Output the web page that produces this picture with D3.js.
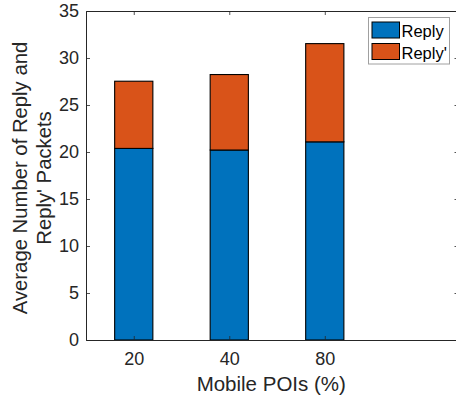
<!DOCTYPE html>
<html><head><meta charset="utf-8">
<script src="https://cdn.jsdelivr.net/npm/d3@7"></script>
<style>html,body{margin:0;padding:0;background:#fff;overflow:hidden}svg{display:block}</style>
</head><body>
<script>
const categories = ["20", "40", "80"];
const replyValues = [20.38, 20.21, 21.08];
const replyPrimeValues = [7.15, 8.03, 10.45];
const seriesNames = ["Reply", "Reply'"];
const seriesColors = ["#0072BD", "#D95319"];
const yTicks = [0, 5, 10, 15, 20, 25, 30, 35];

(function () {
const W = 456, H = 398;
const mLeft = 86, mRight = 458.5, mTop = 11, mBottom = 340;
const font = "'Liberation Sans', Arial, Helvetica, sans-serif";
const axisColor = "#262626";

const svg = d3.select("body").append("svg").attr("width", W).attr("height", H)
  .style("font-family", font);

const x = d3.scaleLinear().domain([0.5, 4.4]).range([mLeft, mRight]);
const y = d3.scaleLinear().domain([0, 35]).range([mBottom, mTop]);
const barW = x(0.4) - x(0);

const data = categories.map((c, i) => ({cat: c, pos: i + 1, Reply: replyValues[i], "Reply'": replyPrimeValues[i]}));
const stack = d3.stack().keys(seriesNames)(data);

// bars
svg.append("g").selectAll("g").data(stack).join("g")
  .attr("fill", (d, i) => seriesColors[i])
  .selectAll("rect").data(d => d).join("rect")
  .attr("x", d => x(d.data.pos) - barW / 2)
  .attr("width", barW)
  .attr("y", d => y(d[1]))
  .attr("height", d => y(d[0]) - y(d[1]))
  .attr("stroke", "#000").attr("stroke-width", 1.1);

// axes
const tl = 4;
const gB = svg.append("g").attr("transform", `translate(0,${mBottom})`)
  .call(d3.axisBottom(x).tickValues([1, 2, 3]).tickFormat(d => categories[d - 1]).tickSizeInner(-tl).tickSizeOuter(0).tickPadding(12));
const gT = svg.append("g").attr("transform", `translate(0,${mTop})`)
  .call(d3.axisTop(x).tickValues([1, 2, 3]).tickFormat("").tickSizeInner(-tl).tickSizeOuter(0));
const gL = svg.append("g").attr("transform", `translate(${mLeft},0)`)
  .call(d3.axisLeft(y).tickValues(yTicks).tickSizeInner(-tl).tickSizeOuter(0).tickPadding(7));
const gR = svg.append("g").attr("transform", `translate(${mRight},0)`)
  .call(d3.axisRight(y).tickValues(yTicks).tickFormat("").tickSizeInner(-tl).tickSizeOuter(0));

[gB, gT, gL, gR].forEach(g => {
  g.select(".domain").attr("stroke", axisColor).attr("stroke-width", 1);
  g.selectAll(".tick line").attr("stroke", axisColor).attr("stroke-width", 0.8);
  g.selectAll(".tick text").attr("fill", axisColor).style("font-size", "18px").style("font-family", font);
});
gB.selectAll(".tick text").attr("dy", "0.71em");

// axis labels
svg.append("text").attr("x", (mLeft + mRight) / 2 - 1).attr("y", 391)
  .attr("text-anchor", "middle").attr("fill", axisColor).style("font-size", "20.5px")
  .text("Mobile POIs (%)");

const yl = svg.append("text").attr("transform", `translate(26.5,178) rotate(-90)`)
  .attr("text-anchor", "middle").attr("fill", axisColor).style("font-size", "20.3px");
yl.append("tspan").attr("x", 0).attr("y", 0).text("Average Number of Reply and");
yl.append("tspan").attr("x", 0).attr("y", 24).text("Reply' Packets");

// legend
const lg = svg.append("g");
lg.append("rect").attr("x", 368.5).attr("y", 17.5).attr("width", 81).attr("height", 46.5)
  .attr("fill", "#fff").attr("stroke", "#a0a0a0").attr("stroke-width", 1);
seriesNames.forEach((s, i) => {
  const yy = 22 + i * 21.5;
  lg.append("rect").attr("x", 372).attr("y", yy).attr("width", 27.5).attr("height", 16)
    .attr("fill", seriesColors[i]).attr("stroke", "#000").attr("stroke-width", 1);
  lg.append("text").attr("x", 401.5).attr("y", yy + 15).attr("fill", "#000")
    .style("font-size", "16.5px").text(s);
});
})();
</script>
</body></html>
